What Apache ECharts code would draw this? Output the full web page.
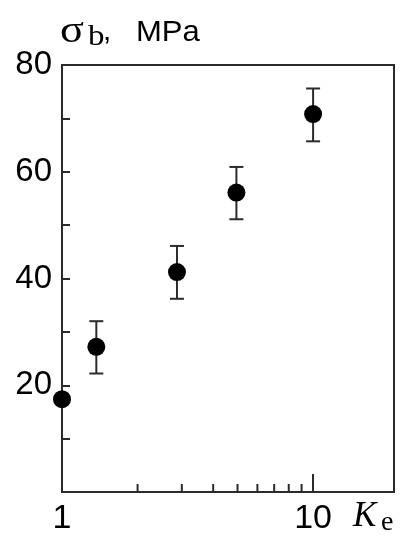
<!DOCTYPE html>
<html>
<head>
<meta charset="utf-8">
<script src="https://cdn.jsdelivr.net/npm/echarts@6/dist/echarts.min.js"></script>
<style>
  html, body { margin: 0; padding: 0; background: #fff; }
  #chart { width: 410px; height: 550px; }
</style>
</head>
<body>
<div id="chart"></div>
<script>
// K_e (log axis) vs sigma_b in MPa
const ke = [1, 1.37, 2.87, 4.95, 10]
const sigma = [17.4, 27.2, 41.2, 56.1, 70.8]
const errLow = [0, 5, 5, 5, 5.1]
const errHigh = [0, 4.8, 4.9, 4.8, 4.8]
const minorTicks = [2, 3, 4, 5, 6, 7, 8, 9]
const xLabels = [1, 10]
const yLabels = [20, 40, 60, 80]

const ink = '#2b2b2b'
const chart = echarts.init(document.getElementById('chart'))

const errData = ke.map((x, i) => [x, sigma[i] - errLow[i], sigma[i] + errHigh[i]])

const txt = (left, top, text, size, family, opts = {}) => ({
  type: 'text', left, top,
  scaleX: opts.sx || 1,
  style: {
    text, fill: '#000', fontSize: size, fontFamily: family,
    fontStyle: opts.italic ? 'italic' : 'normal'
  }
})

chart.setOption({
  animation: false,
  grid: {
    left: 62, right: 16, top: 65, bottom: 58,
    show: true, borderColor: ink, borderWidth: 2
  },
  graphic: [
    txt(60, 14, 'σ', 37, 'Liberation Serif', { sx: 1.2 }),
    txt(88, 22, 'b', 30, 'Liberation Serif', { sx: 1.1 }),
    txt(103, 19, ',', 27, 'Liberation Sans', { sx: 1.1 }),
    txt(136, 18, 'MPa', 29, 'Liberation Sans', { sx: 1.07 }),
    txt(353, 499, 'K', 35, 'Liberation Serif', { italic: true }),
    txt(381, 509, 'e', 28, 'Liberation Serif')
  ],
  xAxis: {
    type: 'log',
    logBase: 10,
    min: 1,
    max: 21,
    splitLine: { show: false },
    axisLine: { lineStyle: { color: ink, width: 2 } },
    axisTick: { inside: true, length: 18, lineStyle: { color: ink, width: 2 } },
    axisLabel: {
      margin: 10,
      fontSize: 34,
      fontFamily: 'Liberation Sans',
      color: '#000',
      showMaxLabel: false,
      formatter: v => xLabels.includes(Math.round(v * 1000) / 1000) ? String(Math.round(v)) : ''
    }
  },
  yAxis: {
    type: 'value',
    min: 0,
    max: 80,
    interval: 10,
    splitLine: { show: false },
    axisLine: { show: true, lineStyle: { color: ink, width: 2 } },
    axisTick: { show: true, inside: true, length: 8, lineStyle: { color: ink, width: 2 } },
    axisLabel: {
      margin: 10,
      fontSize: 33,
      fontFamily: 'Liberation Sans',
      color: '#000',
      formatter: v => yLabels.includes(v) ? String(v) : ''
    }
  },
  series: [
    {
      // minor decade ticks 2..9
      type: 'custom',
      silent: true,
      data: minorTicks.map(v => [v, 0]),
      renderItem: (params, api) => {
        const p = api.coord([api.value(0), 0])
        return {
          type: 'line',
          shape: { x1: p[0], y1: p[1], x2: p[0], y2: p[1] - 8 },
          style: { stroke: ink, lineWidth: 2 }
        }
      }
    },
    {
      type: 'custom',
      silent: true,
      data: errData,
      z: 3,
      renderItem: (params, api) => {
        const lo = api.coord([api.value(0), api.value(1)])
        const hi = api.coord([api.value(0), api.value(2)])
        if (Math.abs(lo[1] - hi[1]) < 1) return null
        const w = 7
        const st = { stroke: ink, lineWidth: 2 }
        return {
          type: 'group',
          children: [
            { type: 'line', shape: { x1: lo[0], y1: lo[1], x2: hi[0], y2: hi[1] }, style: st },
            { type: 'line', shape: { x1: lo[0] - w, y1: lo[1], x2: lo[0] + w, y2: lo[1] }, style: st },
            { type: 'line', shape: { x1: hi[0] - w, y1: hi[1], x2: hi[0] + w, y2: hi[1] }, style: st }
          ]
        }
      }
    },
    {
      type: 'scatter',
      data: ke.map((x, i) => [x, sigma[i]]),
      symbol: 'circle',
      symbolSize: 18,
      itemStyle: { color: '#000', opacity: 1 },
      z: 4
    }
  ]
})
</script>
</body>
</html>
